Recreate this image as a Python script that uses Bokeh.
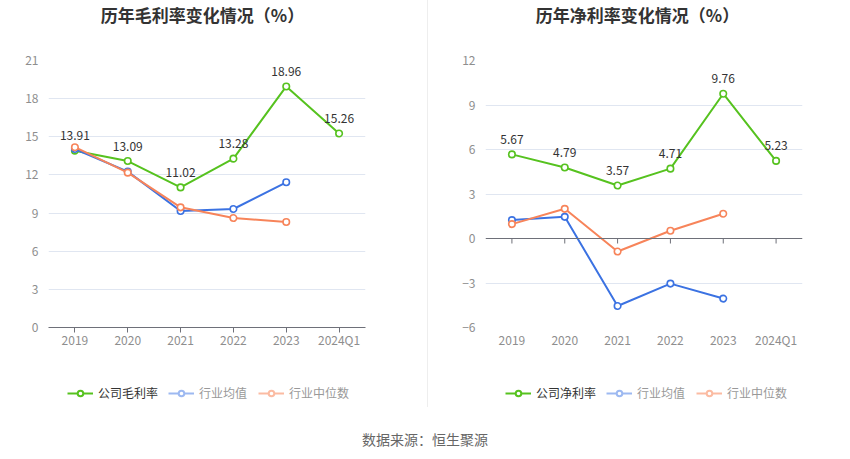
from bokeh.plotting import figure
from bokeh.models import (Range1d, FactorRange, FixedTicker, Legend, LegendItem,
                          Span, Div, ColumnDataSource)
from bokeh.layouts import row, column
from bokeh.embed import file_html
from bokeh.resources import INLINE
from bokeh.core.properties import value

years = ["2019", "2020", "2021", "2022", "2023", "2024Q1"]
years_ind = ["2019", "2020", "2021", "2022", "2023"]

gross_company = [13.91, 13.09, 11.02, 13.28, 18.96, 15.26]
gross_avg = [14.04, 12.26, 9.16, 9.32, 11.42]
gross_median = [14.18, 12.18, 9.45, 8.61, 8.30]

net_company = [5.67, 4.79, 3.57, 4.71, 9.76, 5.23]
net_avg = [1.24, 1.46, -4.55, -3.04, -4.05]
net_median = [0.97, 2.00, -0.88, 0.52, 1.67]

gross_ticks = [0, 3, 6, 9, 12, 15, 18, 21]
net_ticks = [-6, -3, 0, 3, 6, 9, 12]

titles = ["历年毛利率变化情况（%）", "历年净利率变化情况（%）"]
company_names = ["公司毛利率", "公司净利率"]
avg_name = "行业均值"
median_name = "行业中位数"
source_text = "数据来源：恒生聚源"

FONT = "Noto Sans CJK SC"
GREEN = "#56c21f"
BLUE = "#3b72e2"
ORANGE = "#f7845a"
GREEN_L = "#56c21f"
BLUE_L = "#9db9f1"
ORANGE_L = "#fbbba2"
GRID = "#e0e6f1"
TICK_TXT = "#8e8e8e"
AXIS = "#6e7079"


def make_chart(title, comp_name, comp, avg, med, ticks, zero_axis, width, bl, br, leg_x, title_w):
    frame_w, frame_h, bt = 317, 267, 30
    height = 330
    title_div = Div(text=title, width=title_w, height=30, margin=0,
                    styles={"text-align": "center", "font-size": "17px", "font-weight": "bold",
                            "color": "#333333", "font-family": FONT, "line-height": "30px"})
    p = figure(x_range=FactorRange(*years), y_range=Range1d(ticks[0], ticks[-1]),
               width=width, height=height, output_backend="svg", toolbar_location=None,
               min_border_left=bl, min_border_right=br, min_border_top=bt,
               min_border_bottom=height - bt - frame_h)
    p.outline_line_color = None
    p.background_fill_color = "white"
    p.border_fill_color = "white"

    p.yaxis.ticker = FixedTicker(ticks=ticks)
    p.yaxis.axis_line_color = None
    p.yaxis.major_tick_line_color = None
    p.yaxis.major_tick_out = 0
    p.yaxis.major_tick_in = 0
    p.yaxis.minor_tick_line_color = None
    p.yaxis.major_label_standoff = 10
    p.yaxis.major_label_text_font = FONT
    p.yaxis.major_label_text_font_size = "12px"
    p.yaxis.major_label_text_color = TICK_TXT
    p.ygrid.ticker = FixedTicker(ticks=[t for t in ticks if t != 0])
    p.ygrid.grid_line_color = GRID
    p.xgrid.grid_line_color = None

    p.xaxis.major_label_text_font = FONT
    p.xaxis.major_label_text_font_size = "12px"
    p.xaxis.major_label_text_color = TICK_TXT
    p.xaxis.minor_tick_line_color = None
    p.x_range.range_padding = 0
    if zero_axis:
        p.xaxis.axis_line_color = None
        p.xaxis.major_tick_line_color = None
        p.xaxis.major_tick_out = 0
        p.xaxis.major_tick_in = 0
        p.xaxis.major_label_standoff = 3
        p.add_layout(Span(location=0, dimension="width", line_color=AXIS, line_width=1))
        tick_len = (ticks[-1] - ticks[0]) / frame_h * 5
        p.segment(x0=years, y0=[0] * len(years), x1=years, y1=[-tick_len] * len(years),
                  line_color=AXIS, line_width=1)
    else:
        p.xaxis.axis_line_color = AXIS
        p.xaxis.major_tick_line_color = AXIS
        p.xaxis.major_tick_out = 5
        p.xaxis.major_tick_in = 0
        p.xaxis.major_label_standoff = -2

    for xs, ys, col in [(years, comp, GREEN), (years_ind, avg, BLUE), (years_ind, med, ORANGE)]:
        p.line(xs, ys, line_color=col, line_width=2)
        p.scatter(xs, ys, size=6.5, marker="circle", fill_color="white", line_color=col, line_width=1.6)

    src = ColumnDataSource(dict(x=years, y=comp, t=["%.2f" % v for v in comp]))
    p.text(x="x", y="y", text="t", source=src, text_align="center", text_baseline="middle",
           y_offset=-15, text_font=value(FONT), text_font_size="12px", text_color="#333333")

    # legend strip
    lh = 60
    lg = figure(width=width, height=lh, x_range=Range1d(0, 1), y_range=Range1d(0, 1),
                output_backend="svg", toolbar_location=None, min_border=0,
                x_axis_location=None, y_axis_location=None)
    lg.outline_line_color = None
    lg.xgrid.grid_line_color = None
    lg.ygrid.grid_line_color = None
    nan = float("nan")
    entries = [(comp_name, GREEN_L, "#333333"), (avg_name, BLUE_L, "#999999"),
               (median_name, ORANGE_L, "#999999")]
    for (name, col, tcol), lx in zip(entries, leg_x):
        r1 = lg.line([nan], [nan], line_color=col, line_width=2)
        r2 = lg.scatter([nan], [nan], size=11, marker="circle", fill_color="white",
                        line_color=col, line_width=2)
        leg = Legend(items=[LegendItem(label=name, renderers=[r1, r2])], location=(lx, 19),
                     glyph_width=26, glyph_height=14, label_standoff=5, padding=0, margin=0,
                     label_text_font=FONT, label_text_font_size="12px", label_text_color=tcol,
                     border_line_alpha=0, background_fill_alpha=0)
        lg.add_layout(leg, "center")
    return column(title_div, p, lg)


c1 = make_chart(titles[0], company_names[0], gross_company, gross_avg, gross_median,
                gross_ticks, False, 427, 48, 62, [19, 120, 210], 405)
c2 = make_chart(titles[1], company_names[1], net_company, net_avg, net_median,
                net_ticks, True, 422, 57, 48, [20, 121, 211], 419)

divider = Div(text="", width=1, height=407, margin=0, styles={"background-color": "#eeeeee"})
src_div = Div(text=source_text, width=488, height=39, margin=0,
              styles={"text-align": "right", "font-size": "14px", "color": "#666666",
                      "font-family": FONT, "padding-top": "11px", "line-height": "16px"})

layout = column(row(c1, divider, c2), src_div)
open("out.html", "w").write(file_html(layout, INLINE))
